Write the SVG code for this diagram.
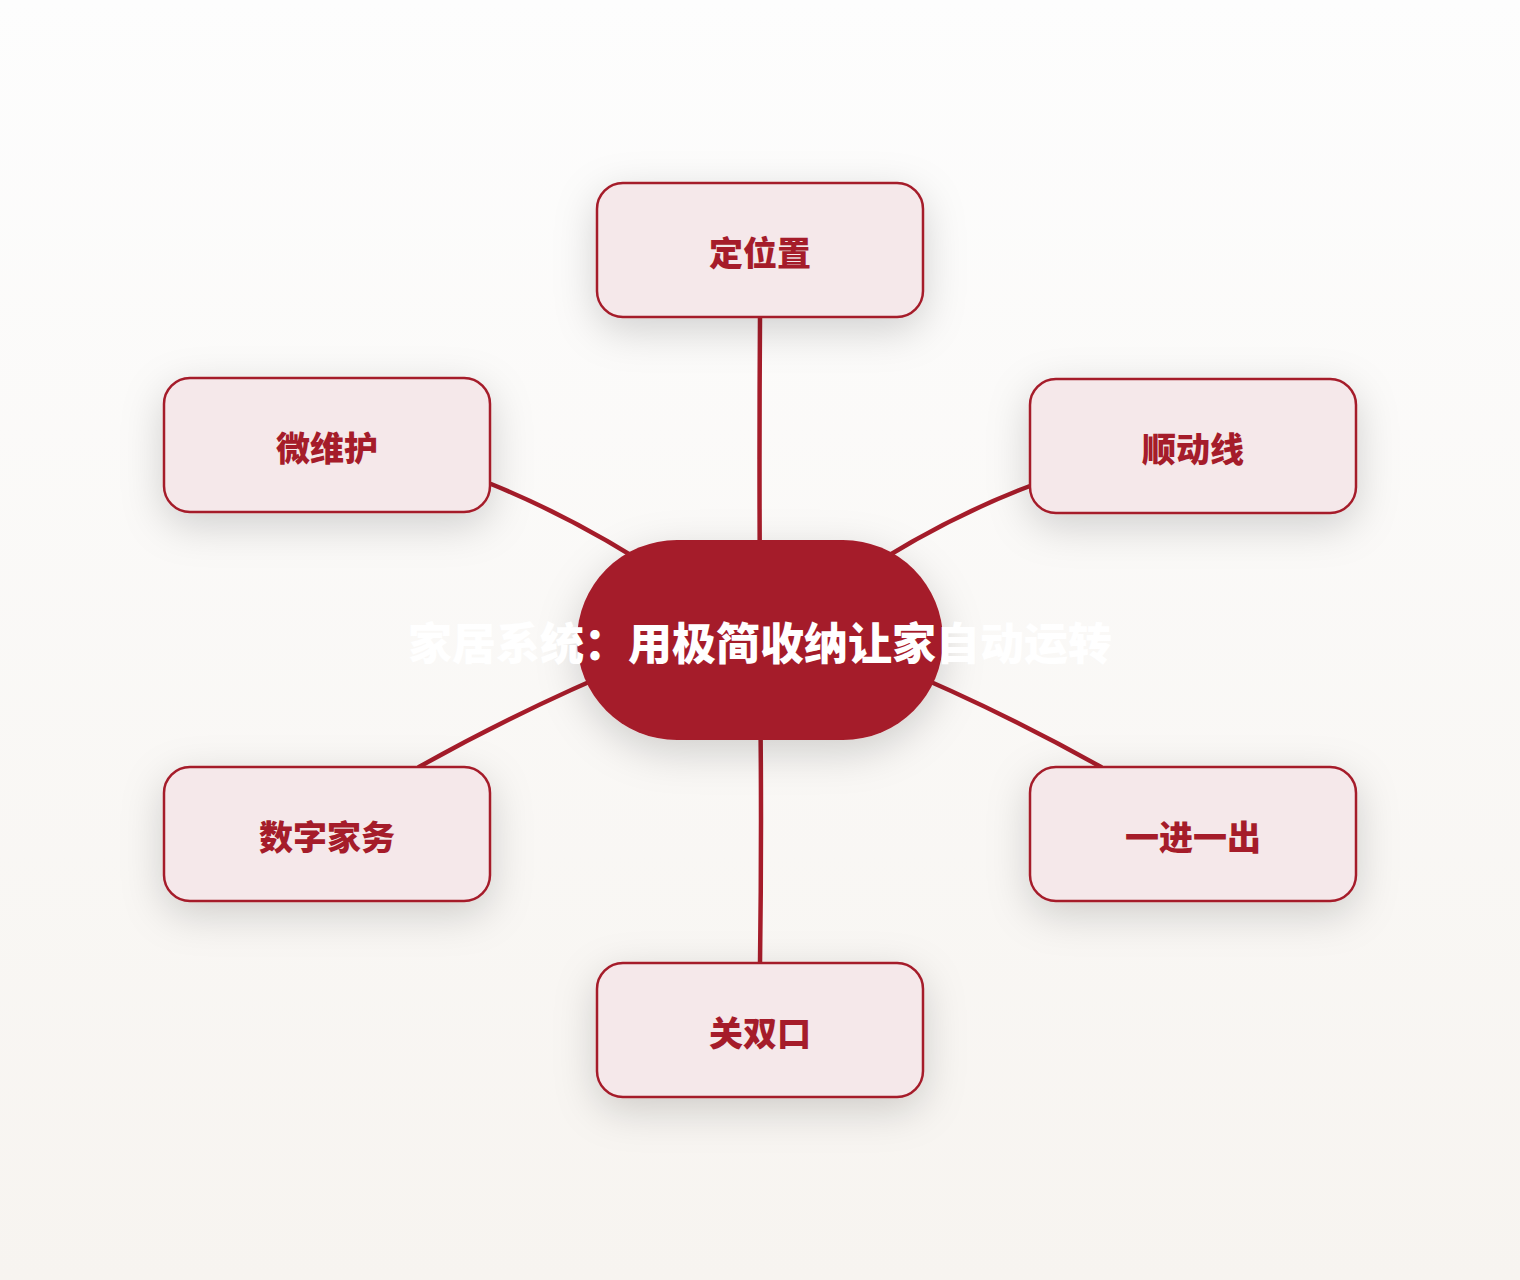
<svg xmlns="http://www.w3.org/2000/svg" width="1520" height="1280" viewBox="0 0 1520 1280">
<defs>
<linearGradient id="bg" x1="0" y1="0" x2="0" y2="1">
<stop offset="0" stop-color="#fdfdfd"/>
<stop offset="1" stop-color="#f7f4f0"/>
</linearGradient>
<filter id="sh" x="-40%" y="-50%" width="180%" height="210%">
<feDropShadow dx="0" dy="12" stdDeviation="20" flood-color="#000" flood-opacity="0.17"/>
</filter>
<style>
.node rect.box{fill:#f5e8ea;stroke:#a51c2a;stroke-width:2.5;filter:url(#sh)}
.node text{font-family:"Noto Sans CJK SC","Noto Sans",sans-serif;font-weight:900;font-size:34px;fill:#a51c2a;text-anchor:middle;dominant-baseline:central}
.conn path{fill:none;stroke:#a51c2a;stroke-width:4.5;stroke-linecap:round}
.center rect{fill:#a51c2a;filter:url(#sh)}
.center text{font-family:"Noto Sans CJK SC","Noto Sans",sans-serif;font-weight:900;font-size:44px;fill:#ffffff;text-anchor:middle;dominant-baseline:central}
</style>
</defs>
<rect x="0" y="0" width="1520" height="1280" fill="url(#bg)"/>
<g class="conn" id="connectors">
<path d="M760 600 Q759 460 760 317"/>
<path d="M670 580 Q580 520 491 484"/>
<path d="M850 580 Q940 520 1030 486"/>
<path d="M640 660 Q520 710 419 767"/>
<path d="M880 660 Q1000 710 1101 767"/>
<path d="M760 680 Q762 820 760 963"/>
</g>
<g class="center" id="node-center">
<rect x="577" y="540" width="366" height="200" rx="100" ry="100"/>
<text x="760" y="641">家居系统：用极简收纳让家自动运转</text>
</g>
<g class="node" id="node-1">
<rect class="box" x="597" y="183" width="326" height="134" rx="26"/>
<text x="760" y="251">定位置</text>
</g>
<g class="node" id="node-2">
<rect class="box" x="1030" y="379" width="326" height="134" rx="26"/>
<text x="1193" y="447">顺动线</text>
</g>
<g class="node" id="node-3">
<rect class="box" x="1030" y="767" width="326" height="134" rx="26"/>
<text x="1193" y="835">一进一出</text>
</g>
<g class="node" id="node-4">
<rect class="box" x="597" y="963" width="326" height="134" rx="26"/>
<text x="760" y="1031">关双口</text>
</g>
<g class="node" id="node-5">
<rect class="box" x="164" y="767" width="326" height="134" rx="26"/>
<text x="327" y="835">数字家务</text>
</g>
<g class="node" id="node-6">
<rect class="box" x="164" y="378" width="326" height="134" rx="26"/>
<text x="327" y="446">微维护</text>
</g>
</svg>
